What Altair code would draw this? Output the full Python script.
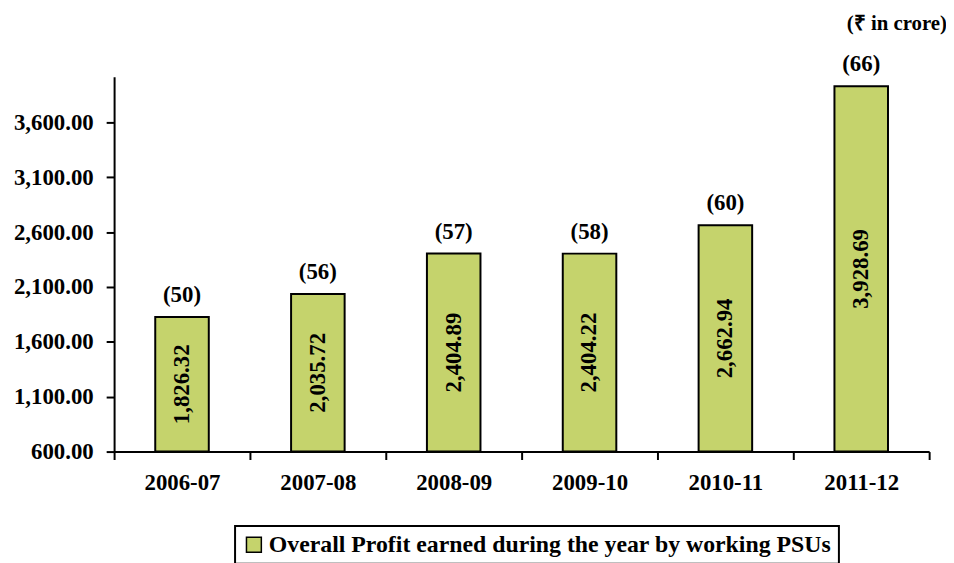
import altair as alt
import pandas as pd

years = ["2006-07", "2007-08", "2008-09", "2009-10", "2010-11", "2011-12"]
profit = [1826.32, 2035.72, 2404.89, 2404.22, 2662.94, 3928.69]
counts = [50, 56, 57, 58, 60, 66]
series_name = "Overall Profit earned during the year by working PSUs"
y_ticks = [600, 1100, 1600, 2100, 2600, 3100, 3600]

df = pd.DataFrame({"year": years, "profit": profit, "count": counts,
                   "series": [series_name] * len(years)})

FONT = "Liberation Serif"
BAR = "#C5D36C"

x = alt.X("year:N", sort=years, title=None,
          scale=alt.Scale(paddingInner=0, paddingOuter=0),
          axis=alt.Axis(labelAngle=0, tickBand="extent", tickSize=8, tickWidth=2,
                        tickColor="black", domainColor="black", domainWidth=2,
                        labelPadding=12, labelFontSize=23, labelFont=FONT,
                        labelFontWeight="bold", labelColor="black"))
yscale = alt.Scale(domain=[600, 4016], nice=False, zero=False)

base = alt.Chart(df)

bars = base.mark_bar(width=54, stroke="black", strokeWidth=2).encode(
    x=x,
    y=alt.Y("profit:Q", scale=yscale, title=None,
            axis=alt.Axis(values=y_ticks, format=",.2f", tickSize=8, tickWidth=2,
                          tickColor="black", domainColor="black", domainWidth=2,
                          grid=False, labelPadding=13, labelFontSize=23, labelFont=FONT,
                          labelFontWeight="bold", labelColor="black")),
    y2=alt.datum(600),
    color=alt.Color("series:N", scale=alt.Scale(range=[BAR]),
                    legend=alt.Legend(title=None, orient="none", legendX=122, legendY=453,
                                      symbolType="square", symbolSize=225,
                                      symbolStrokeColor="black", symbolStrokeWidth=1.5,
                                      labelFont=FONT, labelFontSize=24, labelFontWeight="bold",
                                      labelColor="black", labelOffset=3, labelLimit=0,
                                      strokeColor="black", padding=7)),
)

vals = base.transform_calculate(
    mid="(datum.profit + 600) / 2"
).mark_text(angle=270, font=FONT, fontSize=23, fontWeight="bold", color="black",
            baseline="middle", align="center").encode(
    x=x,
    y=alt.Y("mid:Q", scale=yscale),
    text=alt.Text("profit:Q", format=",.2f"),
)

cnt = base.transform_calculate(
    lbl="'(' + datum.count + ')'"
).mark_text(font=FONT, fontSize=23, fontWeight="bold", color="black",
            baseline="alphabetic", align="center", dy=-15).encode(
    x=x,
    y=alt.Y("profit:Q", scale=yscale),
    text="lbl:N",
)

chart = alt.layer(bars, vals, cnt).properties(
    width=822, height=378,
    autosize=alt.AutoSizeParams(type="none"),
    padding={"left": 107, "top": 67, "right": 17, "bottom": 110},
    title=alt.TitleParams("(₹ in crore)", anchor="end", frame="group", font=FONT,
                          fontSize=21, fontWeight="bold", color="black", dx=18,
                          offset=20),
).configure_view(stroke=None).configure_legend(strokeWidth=2)

chart.save("out.html", embed_options={"renderer": "svg", "actions": False})
